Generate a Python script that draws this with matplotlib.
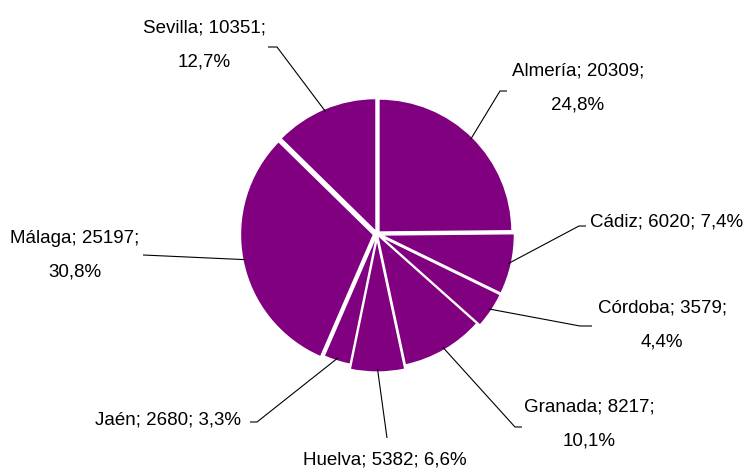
import numpy as np
import matplotlib
matplotlib.use("Agg")
import matplotlib.pyplot as plt

# ---- data ----
provinces = ["Almería", "Cádiz", "Córdoba", "Granada", "Huelva", "Jaén", "Málaga", "Sevilla"]
values = [20309, 6020, 3579, 8217, 5382, 2680, 25197, 10351]
percents = ["24,8%", "7,4%", "4,4%", "10,1%", "6,6%", "3,3%", "30,8%", "12,7%"]

# ---- layout (pixel coordinates of the 747x471 canvas, y downward) ----
W, H = 747, 471
CX, CY, R = 377, 234, 133
explode = [0.021, 0.034, 0.034, 0.008, 0.038, 0.0, 0.027, 0.02]
# label centre, two-line?, elbow point, short horizontal end
label_pos = {
    "Almería": (578, 88, True, (500, 91), (507, 91)),
    "Cádiz": (667, 222, False, (579, 226), (586, 226)),
    "Córdoba": (662, 325, True, (580, 326), (592, 326)),
    "Granada": (589, 424, True, (515, 427), (522, 427)),
    "Huelva": (385, 460, False, (387, 438), None),
    "Jaén": (168, 420, False, (257, 422), (250, 422)),
    "Málaga": (75, 255, True, (143, 255), None),
    "Sevilla": (204, 45, True, (277, 47), (268, 47)),
}

font = ["Liberation Sans Narrow", "Liberation Sans", "DejaVu Sans"]
plt.rcParams["font.family"] = font

fig = plt.figure(figsize=(W / 100, H / 100), dpi=100)
ax = fig.add_axes([0, 0, 1, 1])

def Y(y):
    return H - y

ax.pie(values, startangle=90, counterclock=False, center=(CX, Y(CY)), radius=R,
       explode=[e * R for e in explode], colors=["#800080"] * len(values),
       wedgeprops=dict(edgecolor="white", linewidth=1.0), frame=True)
ax.set_xlim(0, W)
ax.set_ylim(0, H)
ax.set_aspect("equal")
ax.axis("off")

total = sum(values)
cum = np.cumsum([0] + values) / total
for i, name in enumerate(provinces):
    mid = (cum[i] + cum[i + 1]) / 2 * 2 * np.pi  # clockwise from top
    rr = R * (1 + explode[i]) - 3
    ex = CX + rr * np.sin(mid)
    ey = CY - rr * np.cos(mid)
    tx, ty, two, elbow, hend = label_pos[name]
    xs = [ex, elbow[0]]
    ys = [ey, elbow[1]]
    if hend is not None:
        xs.append(hend[0])
        ys.append(hend[1])
    ax.plot(xs, [Y(v) for v in ys], color="black", lw=0.8, solid_capstyle="butt")
    if two:
        txt = f"{name}; {values[i]};\n{percents[i]}"
    else:
        txt = f"{name}; {values[i]}; {percents[i]}"
    ax.text(tx, Y(ty), txt, ha="center", va="center", multialignment="center",
            fontsize=13.5, linespacing=2.3, color="black")

fig.savefig("out.png", dpi=100)
